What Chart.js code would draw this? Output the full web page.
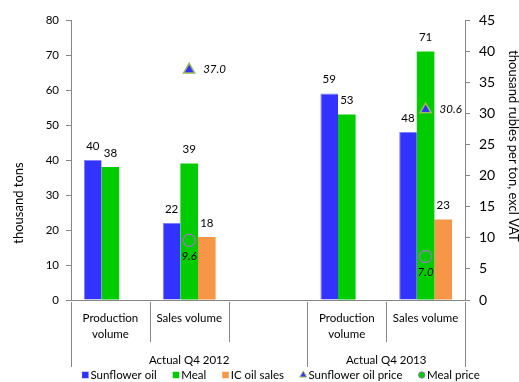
<!DOCTYPE html>
<html>
<head>
<meta charset="utf-8">
<script src="https://cdn.jsdelivr.net/npm/chart.js@4.4.1/dist/chart.umd.min.js"></script>
<style>
  html, body { margin: 0; padding: 0; background: #fff; }
</style>
</head>
<body>
<canvas id="chart_1" width="519" height="382"></canvas>
<script>
// categories on the lower axis, grouped by quarter
const categories = [['Production', 'volume'], 'Sales volume', '', ['Production', 'volume'], 'Sales volume'];
const groupLabels = ['Actual Q4 2012', 'Actual Q4 2013'];
const groupSpans = [3, 2];

// volumes, thousand tons
const sunflowerOil = [40, 22, null, 59, 48];
const meal = [38, 39, null, 53, 71];
const icOilSales = [null, 18, null, null, 23];

// prices, thousand rubles per ton excl VAT
const sunflowerOilPrice = [null, 37.0, null, null, 30.6];
const mealPrice = [null, 9.6, null, null, 7.0];

const volumeMax = 80;
const priceMax = 45;

const FONT = 'Lato, "Open Sans", sans-serif';
const AXIS = '#868686';
const TEXT = '#000';

// numbers above bars and next to price points
const valueLabels = {
    id: 'valueLabels',
    afterDatasetsDraw(chart) {
        const ctx = chart.ctx;
        ctx.save();
        ctx.fillStyle = TEXT;
        chart.data.datasets.forEach((ds, di) => {
            const meta = chart.getDatasetMeta(di);
            meta.data.forEach((el, i) => {
                const v = ds.data[i];
                if (v == null) return;
                ctx.textBaseline = 'middle';
                if (ds.labelPos === 'top') {
                    ctx.font = '11.5px ' + FONT;
                    ctx.textAlign = 'center';
                    ctx.fillText(String(v), el.x, el.y - 14);
                } else if (ds.labelPos === 'right') {
                    ctx.font = 'italic 11.5px ' + FONT;
                    ctx.textAlign = 'left';
                    ctx.fillText(v.toFixed(1), el.x + 14, el.y);
                } else {
                    ctx.font = 'italic 11.5px ' + FONT;
                    ctx.textAlign = 'center';
                    ctx.fillText(v.toFixed(1), el.x, el.y + 16);
                }
            });
        });
        ctx.restore();
    }
};

// separators between categories and the quarter labels under them
const categoryGroups = {
    id: 'categoryGroups',
    afterDraw(chart) {
        const x = chart.scales.x;
        const ctx = chart.ctx;
        const n = chart.data.labels.length;
        const step = x.width / n;
        const top = x.top + 2;
        ctx.save();
        ctx.strokeStyle = AXIS;
        ctx.lineWidth = 1;
        ctx.beginPath();
        for (let i = 0; i <= n; i++) {
            const px = Math.round(x.left + i * step) + 0.5;
            ctx.moveTo(px, top);
            ctx.lineTo(px, top + 40);
        }
        let idx = 0;
        const edges = [x.left];
        groupSpans.forEach(span => { idx += span; edges.push(x.left + idx * step); });
        edges.forEach(e => {
            const px = Math.round(e) + 0.5;
            ctx.moveTo(px, top);
            ctx.lineTo(px, top + 65);
        });
        ctx.stroke();

        ctx.fillStyle = TEXT;
        ctx.font = '11.5px ' + FONT;
        ctx.textAlign = 'center';
        ctx.textBaseline = 'middle';
        groupLabels.forEach((g, gi) => {
            ctx.fillText(g, (edges[gi] + edges[gi + 1]) / 2, 360);
        });
        ctx.restore();
    }
};

// axis titles
const axisTitles = {
    id: 'axisTitles',
    afterDraw(chart) {
        const ctx = chart.ctx;
        ctx.save();
        ctx.fillStyle = TEXT;
        ctx.font = '13px ' + FONT;
        ctx.textAlign = 'center';
        ctx.textBaseline = 'middle';
        ctx.translate(19, 203);
        ctx.rotate(-Math.PI / 2);
        ctx.fillText(chart.options.scales.y.titleText, 0, 0);
        ctx.restore();

        ctx.save();
        ctx.fillStyle = TEXT;
        ctx.font = '13px ' + FONT;
        ctx.textAlign = 'center';
        ctx.textBaseline = 'middle';
        ctx.translate(513, 146);
        ctx.rotate(Math.PI / 2);
        ctx.fillText(chart.options.scales.y2.titleText, 0, 0);
        ctx.restore();
    }
};

// single row legend along the bottom
const bottomLegend = {
    id: 'bottomLegend',
    afterDraw(chart) {
        const ctx = chart.ctx;
        const y = 375;
        let cx = 82;
        ctx.save();
        ctx.font = '11.5px ' + FONT;
        ctx.textBaseline = 'middle';
        ctx.textAlign = 'left';
        chart.data.datasets.forEach(ds => {
            ctx.fillStyle = ds.backgroundColor;
            ctx.strokeStyle = ds.borderColor;
            let r = 4.6, bw = 0;
            if (ds.pointStyle === 'triangle') { r = 4; bw = 1; }
            if (ds.pointStyle === 'circle') { r = 3.2; bw = 1; }
            Chart.helpers.drawPoint(ctx, { pointStyle: ds.pointStyle || 'rect', radius: r, borderWidth: bw, rotation: 0 }, cx + 3.3, y);
            ctx.fillStyle = TEXT;
            ctx.fillText(ds.label, cx + 8.5, y);
            cx += 8.5 + ctx.measureText(ds.label).width + 16;
        });
        ctx.restore();
    }
};

new Chart(document.getElementById('chart_1'), {
    type: 'bar',
    data: {
        labels: categories,
        datasets: [
            {
                label: 'Sunflower oil',
                data: sunflowerOil,
                backgroundColor: '#3333ff',
                borderColor: '#7f7fff',
                borderWidth: { top: 1, left: 1, right: 0, bottom: 0 },
                pointStyle: 'rect',
                labelPos: 'top',
                yAxisID: 'y',
                order: 1
            },
            {
                label: 'Meal',
                data: meal,
                backgroundColor: '#00cc00',
                borderColor: '#00cc00',
                borderWidth: 0,
                pointStyle: 'rect',
                labelPos: 'top',
                yAxisID: 'y',
                order: 1
            },
            {
                label: 'IC oil sales',
                data: icOilSales,
                backgroundColor: '#f79646',
                borderColor: '#f79646',
                borderWidth: 0,
                pointStyle: 'rect',
                labelPos: 'top',
                yAxisID: 'y',
                order: 1
            },
            {
                type: 'line',
                label: 'Sunflower oil price',
                data: sunflowerOilPrice,
                showLine: false,
                pointStyle: 'triangle',
                pointRadius: 6.5,
                pointBorderWidth: 1.5,
                backgroundColor: '#3333ff',
                borderColor: '#9bbb59',
                labelPos: 'right',
                yAxisID: 'y2',
                order: 0
            },
            {
                type: 'line',
                label: 'Meal price',
                data: mealPrice,
                showLine: false,
                pointStyle: 'circle',
                pointRadius: 6,
                pointBorderWidth: 1.5,
                backgroundColor: '#00cc00',
                borderColor: '#8a7fa8',
                labelPos: 'below',
                yAxisID: 'y2',
                order: 0
            }
        ]
    },
    options: {
        responsive: false,
        animation: false,
        layout: { padding: { top: 20, left: 0, right: 0, bottom: 0 } },
        categoryPercentage: 0.67,
        barPercentage: 1.0,
        plugins: {
            legend: { display: false },
            tooltip: { enabled: false }
        },
        scales: {
            x: {
                grid: { display: false },
                border: { display: true, color: AXIS },
                ticks: {
                    color: TEXT,
                    padding: 2,
                    maxRotation: 0,
                    autoSkip: false,
                    font: { family: FONT, size: 11.5, lineHeight: 1.4 }
                },
                afterFit(scale) { scale.height = 82; }
            },
            y: {
                position: 'left',
                min: 0,
                max: volumeMax,
                titleText: 'thousand tons',
                grid: { drawOnChartArea: false, drawTicks: true, tickLength: 5, color: AXIS },
                border: { display: true, color: AXIS },
                ticks: {
                    stepSize: 10,
                    color: TEXT,
                    padding: 7,
                    font: { family: FONT, size: 11.5 }
                },
                afterFit(scale) { scale.width = 71; }
            },
            y2: {
                position: 'right',
                min: 0,
                max: priceMax,
                titleText: 'thousand rubles per ton, excl VAT',
                grid: { drawOnChartArea: false, drawTicks: true, tickLength: 5, color: AXIS },
                border: { display: true, color: AXIS },
                ticks: {
                    stepSize: 2.5,
                    color: TEXT,
                    padding: 9,
                    font: { family: FONT, size: 14 },
                    callback: v => Math.round(v)
                },
                afterFit(scale) { scale.width = 54; }
            }
        }
    },
    plugins: [valueLabels, categoryGroups, axisTitles, bottomLegend]
});
</script>
</body>
</html>
